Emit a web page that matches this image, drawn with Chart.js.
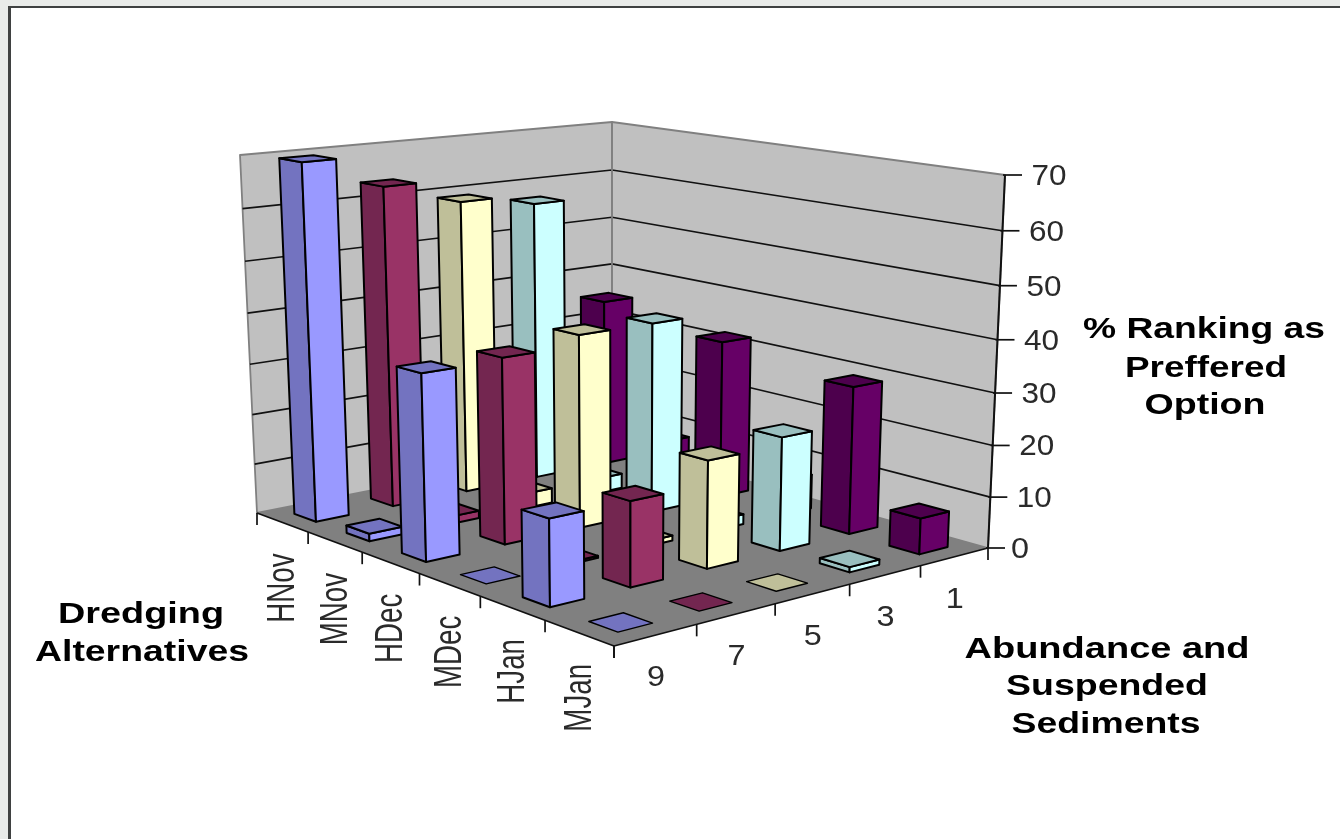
<!DOCTYPE html>
<html>
<head>
<meta charset="utf-8">
<title>Dredging Alternatives</title>
<script src="https://cdn.jsdelivr.net/npm/chart.js@4/dist/chart.umd.min.js"></script>
<style>
html,body{margin:0;padding:0;width:1340px;height:839px;overflow:hidden;background:#e9ebe9}
#frame{position:absolute;left:8px;top:6px;right:0;bottom:0;background:#fff;border-left:3px solid #3f4141;border-top:2px solid #3f4141}
canvas{position:absolute;left:0;top:0}
</style>
</head>
<body>
<div id="frame"></div>
<canvas id="c" width="1340" height="839"></canvas>
<script>
// ---- data ----
const categories = ['HNov','MNov','HDec','MDec','HJan','MJan'];
const rowLabels = ['9','7','5','3','1'];
const row9 = [69.5, 1.5, 35.5, 0, 16, 0];
const row7 = [63.5, 1.5, 36, 0.4, 16, 0];
const row5 = [59, 3, 38, 1, 20.5, 0];
const row3 = [57, 3, 38, 2, 22, 1];
const row1 = [35, 8, 32, 7, 29, 7];
const valueMin = 0, valueMax = 70, valueStep = 10;

// ---- styles ----
const faceColors  = ['#9999FF','#993366','#FFFFCC','#CCFFFF','#660066'];
const shadeColors = ['#7373C0','#732650','#BFBF99','#99BFBF','#4D004D'];
const rowValues = [row9,row7,row5,row3,row1];
const FONT = '"Liberation Sans", Arial, sans-serif';

// ---- view: where the unit cube of the plot lands on the page ----
const floorQuad = [[257,513],[614,646],[988,548],[612,443]];   // (u0,v0) (u1,v0) (u1,v1) (u0,v1)
const roofQuad  = [[240,155],[613,222],[1005,175],[612,122]];
const PERSP = 0.055, BAR_FILL = 0.42, EDGE = 2;

function homography(q){
  const [p0,p1,p2,p3] = q;
  const dx1=p1[0]-p2[0], dx2=p3[0]-p2[0], sx=p0[0]-p1[0]+p2[0]-p3[0];
  const dy1=p1[1]-p2[1], dy2=p3[1]-p2[1], sy=p0[1]-p1[1]+p2[1]-p3[1];
  const det=dx1*dy2-dx2*dy1;
  const g=(sx*dy2-dx2*sy)/det, h=(dx1*sy-sx*dy1)/det;
  const a=p1[0]-p0[0]+g*p1[0], b=p3[0]-p0[0]+h*p3[0], c=p0[0];
  const d=p1[1]-p0[1]+g*p1[1], e=p3[1]-p0[1]+h*p3[1], f=p0[1];
  return (u,v)=>{const w=g*u+h*v+1;return [(a*u+b*v+c)/w,(d*u+e*v+f)/w];};
}
const floorMap = homography(floorQuad), roofMap = homography(roofQuad);
function project(u,v,t){
  const s = t/(1+PERSP*(1-t));
  const a=floorMap(u,v), b=roofMap(u,v);
  return [a[0]+(b[0]-a[0])*s, a[1]+(b[1]-a[1])*s];
}
function poly(ctx,pts,fill,stroke,lw){
  ctx.beginPath();
  pts.forEach((p,i)=>i?ctx.lineTo(p[0],p[1]):ctx.moveTo(p[0],p[1]));
  ctx.closePath();
  if(fill){ctx.fillStyle=fill;ctx.fill();}
  if(stroke){ctx.strokeStyle=stroke;ctx.lineWidth=lw;ctx.stroke();}
}
function line(ctx,a,b,color,lw){
  ctx.beginPath();ctx.moveTo(a[0],a[1]);ctx.lineTo(b[0],b[1]);
  ctx.strokeStyle=color;ctx.lineWidth=lw;ctx.stroke();
}
function heightFrac(scale,value){
  return (scale.bottom-scale.getPixelForValue(value))/(scale.bottom-scale.top);
}

// ---- bars: each element is read from the chart's own scales ----
class Bar3DController extends Chart.BarController {
  draw(){
    const ctx=this.chart.ctx, meta=this._cachedMeta, x=meta.iScale, y=meta.vScale;
    const depth=this.chart.scales.depth, ds=this.index;
    const stepU=(x.getPixelForValue(1)-x.getPixelForValue(0))/(x.right-x.left);
    const stepV=Math.abs(depth.getPixelForValue(1)-depth.getPixelForValue(0))/(depth.right-depth.left);
    const du=stepU*BAR_FILL/2, dv=stepV*BAR_FILL/2;
    const v=(depth.getPixelForValue(ds)-depth.left)/(depth.right-depth.left);
    ctx.save();ctx.lineJoin='round';
    meta.data.forEach((el,i)=>{
      const u=(x.getPixelForValue(i)-x.left)/(x.right-x.left);
      const t=heightFrac(y,this.getParsed(i).y);
      const u0=u-du,u1=u+du,v0=v-dv,v1=v+dv;
      const face=faceColors[ds], shade=shadeColors[ds];
      if(t>0){
        poly(ctx,[project(u0,v0,0),project(u1,v0,0),project(u1,v0,t),project(u0,v0,t)],shade,'#000',EDGE);
        poly(ctx,[project(u1,v0,0),project(u1,v1,0),project(u1,v1,t),project(u1,v0,t)],face,'#000',EDGE);
      }
      poly(ctx,[project(u0,v0,t),project(u1,v0,t),project(u1,v1,t),project(u0,v1,t)],shade,'#000',t>0?EDGE:1.4);
    });
    ctx.restore();
  }
}
Bar3DController.id='bar3d';
Bar3DController.defaults={};
Chart.register(Bar3DController);

function fitText(ctx,text,cx,cy,font,width,color){
  ctx.save();
  ctx.font=font;ctx.fillStyle=color;ctx.textAlign='center';ctx.textBaseline='middle';
  const w=ctx.measureText(text).width;
  ctx.translate(cx,cy);ctx.scale(width/w,1);ctx.fillText(text,0,0);
  ctx.restore();
}

const scenePlugin={
  id:'scene',
  beforeDatasetsDraw(chart){
    const ctx=chart.ctx, y=chart.scales.y, x=chart.scales.x, depth=chart.scales.depth;
    ctx.save();ctx.lineJoin='round';
    // walls and floor
    poly(ctx,[project(0,0,0),project(0,1,0),project(0,1,1),project(0,0,1)],'#C0C0C0','#808080',1.8);
    poly(ctx,[project(0,1,0),project(1,1,0),project(1,1,1),project(0,1,1)],'#C0C0C0','#808080',1.8);
    poly(ctx,[project(0,0,0),project(1,0,0),project(1,1,0),project(0,1,0)],'#808080');
    // gridlines and value ticks, from the value scale
    y.ticks.forEach(tk=>{
      const t=heightFrac(y,tk.value);
      if(tk.value>valueMin&&tk.value<valueMax){
        ctx.beginPath();
        const a=project(0,0,t),b=project(0,1,t),c=project(1,1,t);
        ctx.moveTo(a[0],a[1]);ctx.lineTo(b[0],b[1]);ctx.lineTo(c[0],c[1]);
        ctx.strokeStyle='#111';ctx.lineWidth=1.7;ctx.stroke();
      }
      const e=project(1,1,t);
      line(ctx,[e[0]-2,e[1]],[e[0]+17,e[1]],'#111',1.7);
      const long=String(tk.label).length>1;
      fitText(ctx,tk.label,e[0]+27+(long?17:5),e[1]+2,'29px '+FONT,long?35:18,'#2a2a2a');
    });
    line(ctx,project(0,1,0),project(0,1,1),'#808080',1.8);
    line(ctx,project(1,1,0),project(1,1,1),'#111',2);
    line(ctx,project(0,0,0),project(1,0,0),'#111',1.8);
    line(ctx,project(1,0,0),project(1,1,0),'#111',1.8);
    // category axis
    const n=x.ticks.length, m=depth.ticks.length;
    for(let i=0;i<=n;i++){const p=floorMap(i/n,0);line(ctx,p,[p[0],p[1]+12],'#111',1.7);}
    for(let j=0;j<=m;j++){const p=floorMap(1,j/m);line(ctx,p,[p[0],p[1]+12],'#111',1.7);}
    ctx.fillStyle='#2a2a2a';
    x.ticks.forEach((tk,i)=>{
      const u=(x.getPixelForValue(i)-x.left)/(x.right-x.left);
      const p=floorMap(u,0);
      ctx.save();
      ctx.translate(p[0]+1,p[1]+31);ctx.rotate(-Math.PI/2);ctx.scale(0.71,1);
      ctx.font='39px '+FONT;ctx.textAlign='right';ctx.textBaseline='middle';
      ctx.fillText(categories[i],0,0);
      ctx.restore();
    });
    depth.ticks.forEach((tk,j)=>{
      const v=(depth.getPixelForValue(j)-depth.left)/(depth.right-depth.left);
      const p=floorMap(1,v);
      fitText(ctx,rowLabels[j],p[0],p[1]+43,'29px '+FONT,18,'#2a2a2a');
    });
    // axis titles
    const bold='bold 29px '+FONT;
    fitText(ctx,'Dredging',141,615,bold,166,'#000');
    fitText(ctx,'Alternatives',142,653,bold,214,'#000');
    fitText(ctx,'% Ranking as',1204,330,bold,242,'#000');
    fitText(ctx,'Preffered',1206,369,bold,162,'#000');
    fitText(ctx,'Option',1205,406,bold,121,'#000');
    fitText(ctx,'Abundance and',1107,650,bold,285,'#000');
    fitText(ctx,'Suspended',1107,687,bold,202,'#000');
    fitText(ctx,'Sediments',1106,725,bold,189,'#000');
    ctx.restore();
  }
};

new Chart(document.getElementById('c'),{
  type:'bar3d',
  data:{
    labels:categories,
    datasets:rowLabels.map((r,i)=>({label:r,data:rowValues[i],clip:false,backgroundColor:faceColors[i],borderColor:'#000'}))
  },
  options:{
    responsive:false,animation:false,events:[],
    layout:{padding:{left:257,right:352,top:175,bottom:291}},
    plugins:{legend:{display:false},tooltip:{enabled:false},title:{display:false}},
    scales:{
      x:{type:'category',axis:'x',labels:categories,offset:true,display:false},
      depth:{type:'category',axis:'x',labels:rowLabels,offset:true,display:false,position:'bottom'},
      y:{type:'linear',axis:'y',min:valueMin,max:valueMax,ticks:{stepSize:valueStep,display:false},grid:{display:false},border:{display:false},position:'right'}
    }
  },
  plugins:[scenePlugin]
});
</script>
</body>
</html>
